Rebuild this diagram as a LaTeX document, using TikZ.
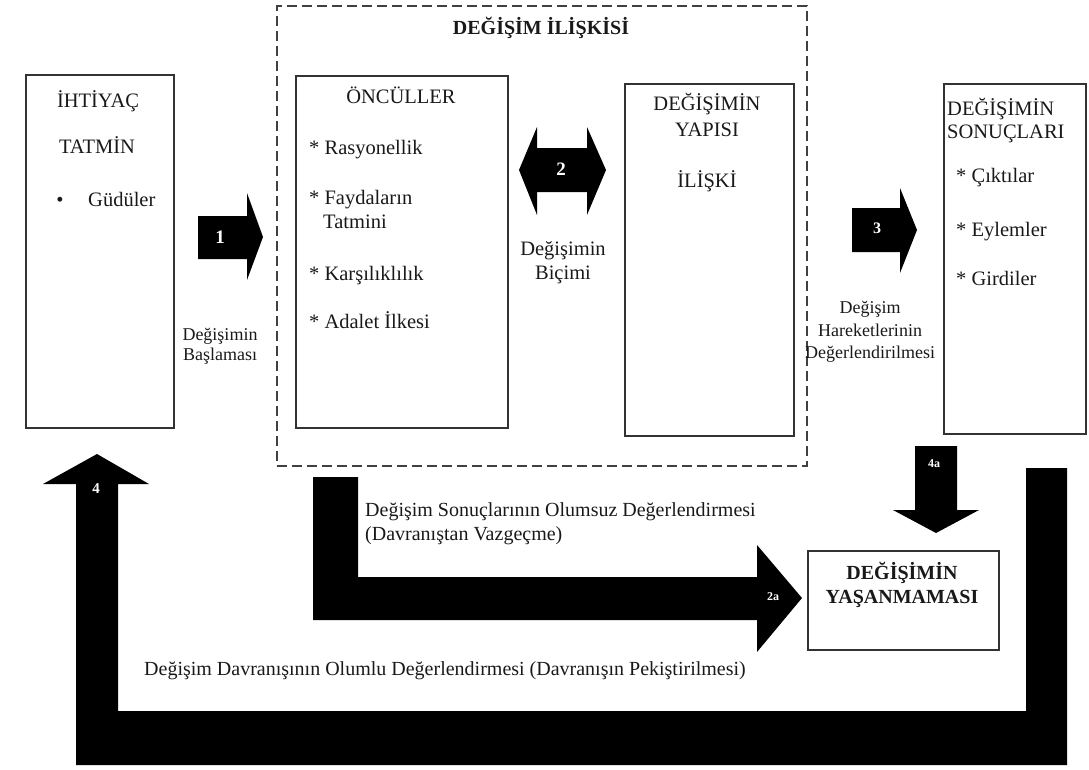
\documentclass[tikz,border=0pt]{standalone}
\usepackage{fontspec}
\setmainfont{Liberation Serif}
\begin{document}
\begin{tikzpicture}[x=1pt,y=-1pt,
  box/.style={draw=black!80, line width=1.6pt, fill=white, inner sep=0pt, anchor=north west},
  frame/.style={draw=black!75, line width=1.8pt, dash pattern=on 10pt off 5pt, inner sep=0pt, anchor=north west},
  txt/.style={font=\fontsize{20.5}{23}\selectfont, text=black!90, inner sep=0pt, anchor=base},
  ltxt/.style={txt, anchor=base west},
  btxt/.style={txt, font=\bfseries\fontsize{20}{23}\selectfont},
  lbl/.style={font=\fontsize{18}{21}\selectfont, text=black!90, inner sep=0pt, anchor=base},
  blk/.style={fill=black},
  num/.style={text=white, font=\bfseries\fontsize{19}{21}\selectfont, inner sep=0pt},
  snum/.style={text=white, font=\bfseries\fontsize{12}{14}\selectfont, inner sep=0pt}
]
\useasboundingbox (0,0) rectangle (1089,769);

% --- frame of the exchange relation ---
\node[frame, minimum width=530, minimum height=460] (iliski) at (276,5) {};
\node[btxt] (iliskiT) at (541,34) {DEĞİŞİM İLİŞKİSİ};

% --- boxes ---
\node[box, minimum width=148, minimum height=353] (ihtiyac) at (25,74) {};
\node[box, minimum width=212, minimum height=352] (onculler) at (295,75) {};
\node[box, minimum width=169, minimum height=352] (yapi) at (624,83) {};
\node[box, minimum width=142, minimum height=350] (sonuc) at (943,83) {};
\node[box, minimum width=191, minimum height=99] (yasanma) at (807,550) {};

% needs / satisfaction
\node[txt] (t1a) at (98,107) {İHTİYAÇ};
\node[txt] (t1b) at (97,153) {TATMİN};
\node[txt] (t1c) at (60,206) {•};
\node[ltxt] (t1d) at (88,206) {Güdüler};

% antecedents
\node[txt] (t2a) at (401,103) {ÖNCÜLLER};
\node[ltxt] (t2b) at (309,154) {* Rasyonellik};
\node[ltxt] (t2c) at (309,204) {* Faydaların};
\node[ltxt] (t2d) at (323,228) {Tatmini};
\node[ltxt] (t2e) at (309,280) {* Karşılıklılık};
\node[ltxt] (t2f) at (309,328) {* Adalet İlkesi};

% structure of the exchange
\node[txt] (t3a) at (707,110) {DEĞİŞİMİN};
\node[txt] (t3b) at (707,136) {YAPISI};
\node[txt] (t3c) at (707,187) {İLİŞKİ};

% outcomes
\node[ltxt] (t4a) at (947,115) {DEĞİŞİMİN};
\node[ltxt] (t4b) at (947,138) {SONUÇLARI};
\node[ltxt] (t4c) at (956,182) {* Çıktılar};
\node[ltxt] (t4d) at (956,236) {* Eylemler};
\node[ltxt] (t4e) at (956,285) {* Girdiler};

% no exchange
\node[btxt] (t5a) at (902,579) {DEĞİŞİMİN};
\node[btxt] (t5b) at (902,603) {YAŞANMAMASI};

% --- block arrows ---
\path[blk] (198,216) -- (247,216) -- (247,193) -- (263,237) -- (247,280) -- (247,259) -- (198,259) -- cycle;
\node[num] (n1) at (220,237) {1};

\path[blk] (519,170) -- (537,127) -- (537,148) -- (587,148) -- (587,127) -- (606,170)
  -- (587,215) -- (587,192) -- (537,192) -- (537,215) -- cycle;
\node[num] (n2) at (561,169) {2};

\path[blk] (852,208) -- (900,208) -- (900,188) -- (917,230) -- (900,273) -- (900,252) -- (852,252) -- cycle;
\node[num, font=\bfseries\fontsize{16}{18}\selectfont] (n3) at (877,228) {3};

\path[blk] (915,446) -- (957,446) -- (957,510) -- (979,510) -- (936,533) -- (893,510) -- (915,510) -- cycle;
\node[snum] (n4a) at (934,464) {4a};

\path[blk] (313,477) -- (358,477) -- (358,577) -- (757,577) -- (757,545) -- (802,598)
  -- (757,652) -- (757,620) -- (313,620) -- cycle;
\node[snum] (n2a) at (773,597) {2a};

\path[blk] (76,765) -- (1067,765) -- (1067,468) -- (1026,468) -- (1026,711) -- (118,711)
  -- (118,484) -- (149,484) -- (97,454) -- (43,484) -- (76,484) -- cycle;
\node[snum, font=\bfseries\fontsize{15}{17}\selectfont] (n4) at (96,489) {4};

% --- arrow labels ---
\node[lbl] (l1a) at (220,340) {Değişimin};
\node[lbl] (l1b) at (220,360) {Başlaması};
\node[txt] (l2a) at (563,255) {Değişimin};
\node[txt] (l2b) at (563,279) {Biçimi};
\node[lbl] (l3a) at (870,313) {Değişim};
\node[lbl] (l3b) at (870,336) {Hareketlerinin};
\node[lbl] (l3c) at (870,358) {Değerlendirilmesi};
\node[ltxt, font=\fontsize{20}{23}\selectfont] (l4a) at (365,516) {Değişim Sonuçlarının Olumsuz Değerlendirmesi};
\node[ltxt, font=\fontsize{20}{23}\selectfont] (l4b) at (365,540) {(Davranıştan Vazgeçme)};
\node[ltxt, font=\fontsize{20}{23}\selectfont] (l5) at (144,675) {Değişim Davranışının Olumlu Değerlendirmesi (Davranışın Pekiştirilmesi)};
\end{tikzpicture}
\end{document}
